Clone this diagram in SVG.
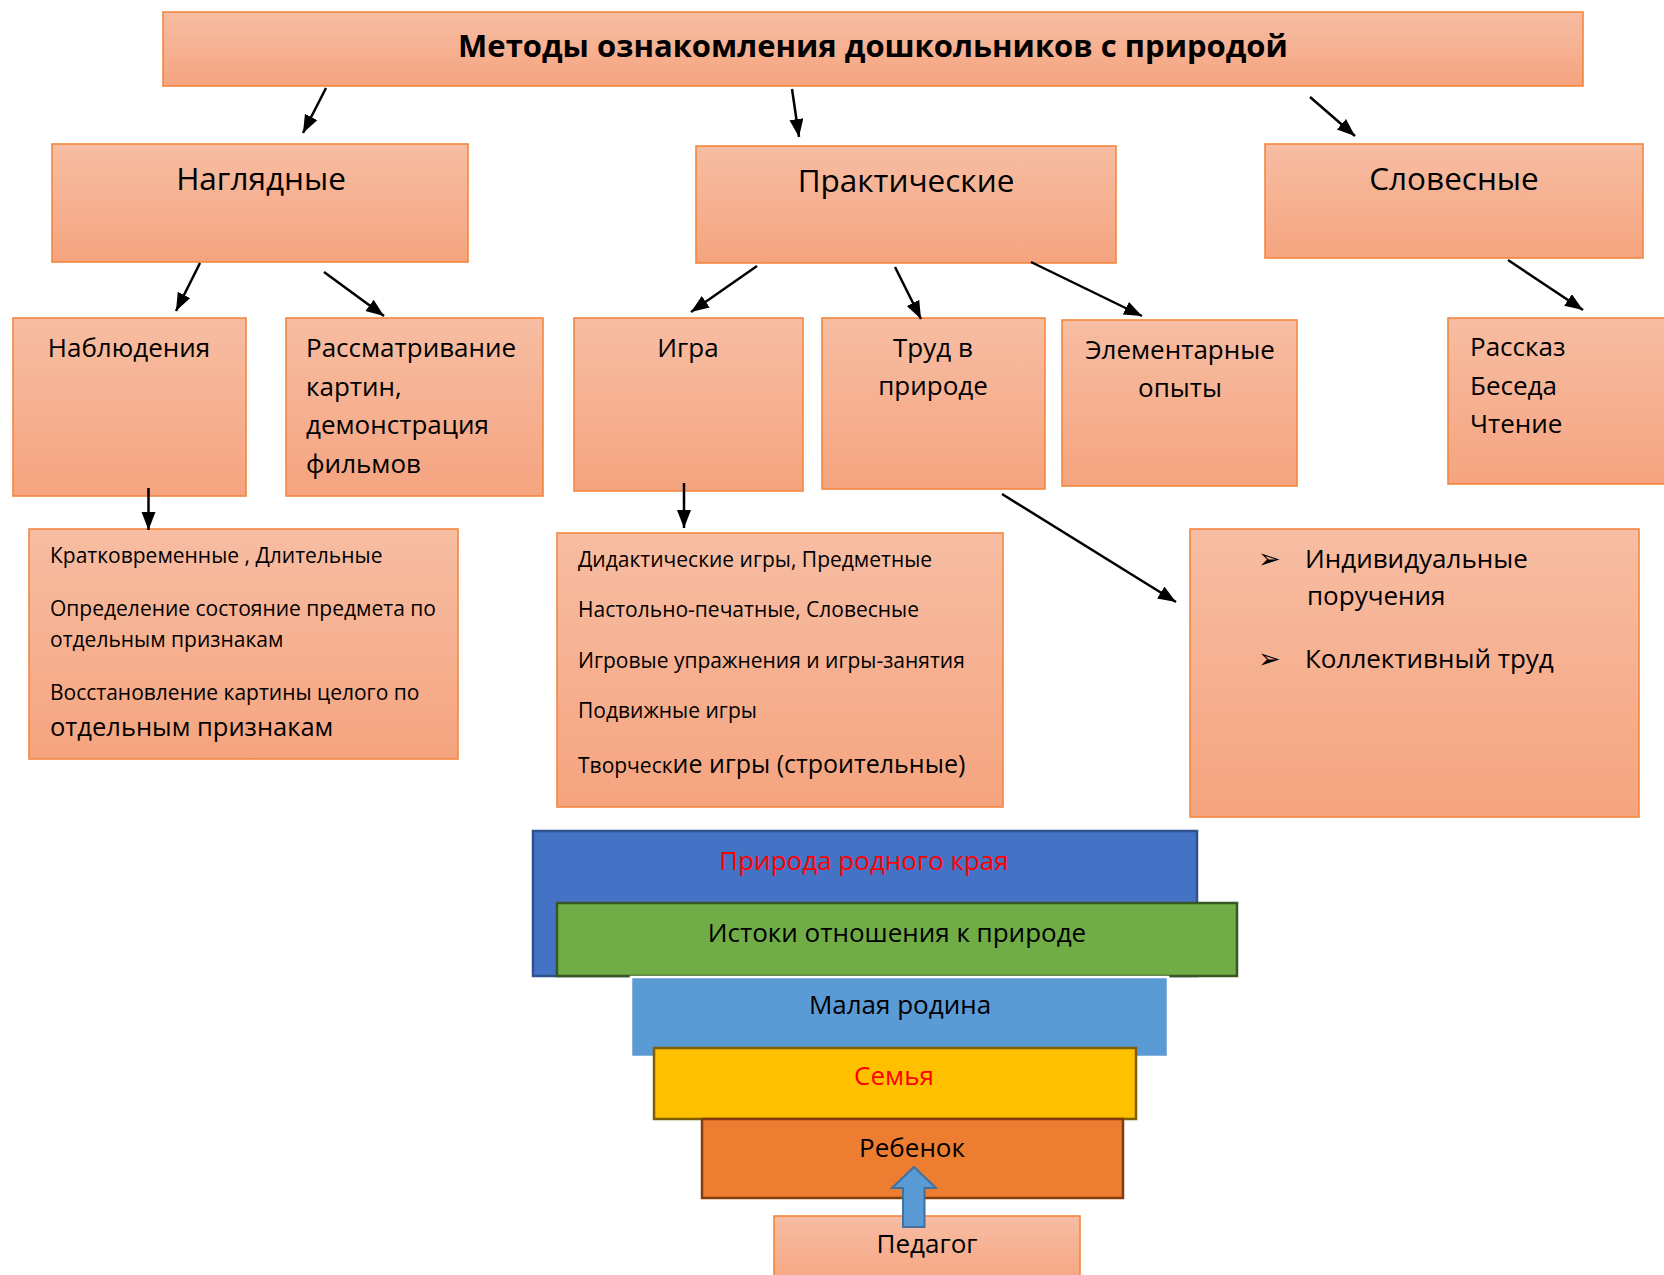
<svg xmlns="http://www.w3.org/2000/svg" width="1664" height="1275" viewBox="0 0 1664 1275">
<style>
.box{fill:url(#sal);stroke:#F4873F;stroke-width:1.6}
.t{font-family:"Open Sans","Noto Sans",sans-serif;fill:#000}
.h2{font-size:31.5px;text-anchor:middle}
.h3{font-size:26px}
.c{text-anchor:middle}
.sm{font-size:21px}
.bul{font-family:"DejaVu Sans",sans-serif;font-size:27px;fill:#000}
.conn line{stroke:#000;stroke-width:2.5;marker-end:url(#ah)}
</style>
<defs>
<linearGradient id="sal" x1="0" y1="0" x2="0" y2="1">
<stop offset="0" stop-color="#F7BDA3"/>
<stop offset="1" stop-color="#F5A47F"/>
</linearGradient>
<marker id="ah" markerUnits="userSpaceOnUse" markerWidth="20" markerHeight="16" refX="18" refY="7" orient="auto">
<path d="M0,0 L18,7 L0,14 Z" fill="#000"/>
</marker>
</defs>

<g id="title">
<rect class="box" x="163" y="12" width="1420" height="74"/>
<text class="t c" x="873" y="57" font-size="31" font-weight="bold">Методы ознакомления дошкольников с природой</text>
</g>

<g id="naglyadnye">
<rect class="box" x="52" y="144" width="416" height="118"/>
<text class="t h2" x="261" y="190">Наглядные</text>
</g>
<g id="prakticheskie">
<rect class="box" x="696" y="146" width="420" height="117"/>
<text class="t h2" x="906" y="192">Практические</text>
</g>
<g id="slovesnye">
<rect class="box" x="1265" y="144" width="378" height="114"/>
<text class="t h2" x="1454" y="190">Словесные</text>
</g>

<g id="nablyudeniya">
<rect class="box" x="13" y="318" width="233" height="178"/>
<text class="t h3" x="129" y="357" text-anchor="middle">Наблюдения</text>
</g>
<g id="rassmatrivanie">
<rect class="box" x="286" y="318" width="257" height="178"/>
<text class="t h3" x="306" y="357" font-size="25.5">Рассматривание</text>
<text class="t h3" x="306" y="396" font-size="25.5">картин,</text>
<text class="t h3" x="306" y="434" font-size="25.5">демонстрация</text>
<text class="t h3" x="306" y="473" font-size="25.5">фильмов</text>
</g>
<g id="igra">
<rect class="box" x="574" y="318" width="229" height="173"/>
<text class="t h3 c" x="688" y="357">Игра</text>
</g>
<g id="trud">
<rect class="box" x="822" y="318" width="223" height="171"/>
<text class="t h3 c" x="933" y="357">Труд в</text>
<text class="t h3 c" x="933" y="395">природе</text>
</g>
<g id="opyty">
<rect class="box" x="1062" y="320" width="235" height="166"/>
<text class="t h3 c" x="1180" y="359">Элементарные</text>
<text class="t h3 c" x="1180" y="397">опыты</text>
</g>
<g id="rasskaz">
<rect class="box" x="1448" y="318" width="220" height="166"/>
<text class="t h3" x="1470" y="356">Рассказ</text>
<text class="t h3" x="1470" y="395">Беседа</text>
<text class="t h3" x="1470" y="433">Чтение</text>
</g>

<g id="kratkovremennye">
<rect class="box" x="29" y="529" width="429" height="230"/>
<text class="t sm" x="50" y="563">Кратковременные , Длительные</text>
<text class="t sm" x="50" y="616">Определение состояние предмета по</text>
<text class="t sm" x="50" y="647">отдельным признакам</text>
<text class="t sm" x="50" y="700">Восстановление картины целого по</text>
<text class="t" x="50" y="736" font-size="25.5">отдельным признакам</text>
</g>
<g id="didakticheskie">
<rect class="box" x="557" y="533" width="446" height="274"/>
<text class="t sm" x="578" y="567">Дидактические игры, Предметные</text>
<text class="t sm" x="578" y="617">Настольно-печатные, Словесные</text>
<text class="t sm" x="578" y="668">Игровые упражнения и игры-занятия</text>
<text class="t sm" x="578" y="718">Подвижные игры</text>
<text class="t sm" x="578" y="773">Творческ<tspan font-size="25">ие игры (строительные)</tspan></text>
</g>
<g id="porucheniya">
<rect class="box" x="1190" y="529" width="449" height="288"/>
<text class="bul" x="1258" y="568">➢</text>
<text class="t h3" x="1305" y="568">Индивидуальные</text>
<text class="t h3" x="1307" y="605">поручения</text>
<text class="bul" x="1258" y="668">➢</text>
<text class="t h3" x="1305" y="668">Коллективный труд</text>
</g>

<g id="connectors" class="conn">
<line x1="326" y1="88" x2="303" y2="133"/>
<line x1="792" y1="89" x2="799" y2="137"/>
<line x1="1310" y1="97" x2="1355" y2="136"/>
<line x1="200" y1="263" x2="176" y2="311"/>
<line x1="324" y1="272" x2="384" y2="316"/>
<line x1="757" y1="266" x2="691" y2="312"/>
<line x1="895" y1="267" x2="921" y2="319"/>
<line x1="1031" y1="262" x2="1142" y2="316"/>
<line x1="1508" y1="260" x2="1583" y2="310"/>
<line x1="148.5" y1="488" x2="148.5" y2="530"/>
<line x1="684" y1="483" x2="684" y2="528"/>
<line x1="1002" y1="494" x2="1176" y2="602"/>
</g>

<g id="priroda-kraya">
<rect x="533" y="831" width="664" height="145" fill="#4472C4" stroke="#2F528F" stroke-width="2.5"/>
<text class="t h3 c" x="864" y="870" style="fill:#FF0000">Природа родного края</text>
</g>
<g id="istoki">
<rect x="557" y="903" width="680" height="73" fill="#70AD47" stroke="#385723" stroke-width="2.5"/>
<text class="t h3 c" x="897" y="942" font-size="25.3">Истоки отношения к природе</text>
</g>
<g id="malaya-rodina">
<rect x="631" y="977" width="537" height="80" fill="#5B9BD5" stroke="#FFFFFF" stroke-width="2.5"/>
<text class="t h3 c" x="900" y="1014">Малая родина</text>
</g>
<g id="semya">
<rect x="654" y="1048" width="482" height="71" fill="#FFC000" stroke="#7F6000" stroke-width="2.5"/>
<text class="t h3 c" x="894" y="1085" style="fill:#FF0000">Семья</text>
</g>
<g id="rebenok">
<rect x="702" y="1119" width="421" height="79" fill="#ED7D31" stroke="#843C0C" stroke-width="2.5"/>
<text class="t h3 c" x="912" y="1157">Ребенок</text>
</g>
<g id="pedagog">
<rect class="box" x="774" y="1216" width="306" height="70"/>
<text class="t h3 c" x="927" y="1253">Педагог</text>
</g>
<g id="up-arrow">
<path d="M903,1227 L903,1188 L892,1188 L914,1167 L936,1188 L924.5,1188 L924.5,1227 Z" fill="#5B9BD5" stroke="#41719C" stroke-width="2"/>
</g>
</svg>
